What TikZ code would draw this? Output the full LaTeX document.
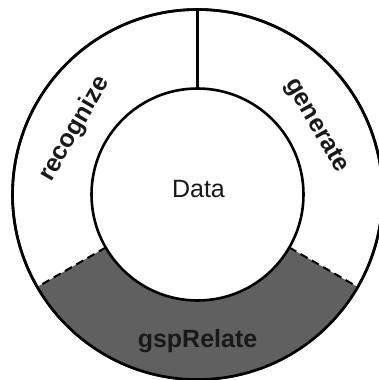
\documentclass[tikz,border=0pt]{standalone}
\usepackage{fontspec}
\setmainfont{Liberation Sans}
\usetikzlibrary{calc}
\begin{document}
\begin{tikzpicture}[x=1pt,y=1pt,
  ring/.style={circle, draw=black, line width=2.6pt, outer sep=0pt, inner sep=0pt},
  sep/.style={draw=black, line width=2.2pt},
  dashsep/.style={draw=black, line width=2pt, dash pattern=on 8pt off 5pt},
  lab/.style={font=\fontsize{25}{25}\selectfont\bfseries, text=black!90, inner sep=0pt}]
\useasboundingbox (0,0) rectangle (379,380);
\coordinate (C) at (197.5,185.5);
\fill[white] (0,0) rectangle (379,380);
\begin{scope}
\clip (0,0) rectangle (379,380);
\node[ring, minimum size=370pt] (outer) at (C) {};
\fill[fill={rgb,255:red,96;green,96;blue,96}] (outer.210) arc[start angle=210, end angle=330, radius=185pt]
  -- ($(C)+(330:106)$) arc[start angle=330, end angle=210, radius=106pt] -- cycle;
\node[ring, minimum size=370pt] (outer2) at (C) {};
\node[ring, minimum size=212pt, fill=white] (inner) at (C) {};
\draw[sep] (inner.90) -- (outer.90);
\draw[dashsep] (inner.210) -- (outer.210);
\draw[dashsep] (inner.330) -- (outer.330);
\end{scope}
\node[font=\fontsize{25}{25}\selectfont, text=black!90, inner sep=0pt] (data) at ($(C)+(1,5)$) {Data};
\node[lab, rotate=60] (recognize) at ($(C)+(152:139)$) {recognize};
\node[lab, rotate=-60] (generate) at ($(C)+(30:137)$) {generate};
\node[lab] (gsprelate) at ($(C)+(0,-147)$) {gspRelate};
\end{tikzpicture}
\end{document}
